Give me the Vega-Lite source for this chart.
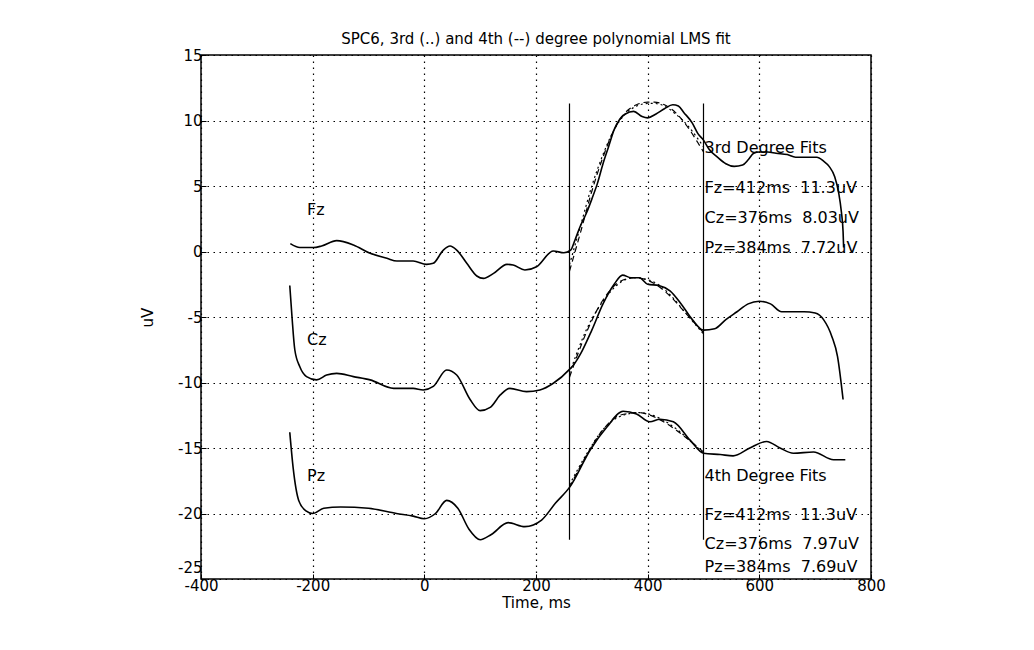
{
  "$schema": "https://vega.github.io/schema/vega-lite/v6.json",
  "autosize": {"type": "none"},
  "width": 670,
  "height": 524,
  "padding": {"left": 201, "top": 55, "right": 163, "bottom": 71},
  "background": "white",
  "title": {"text": "SPC6, 3rd (..) and 4th (--) degree polynomial LMS fit", "fontSize": 15, "fontWeight": "normal", "font": "DejaVu Sans", "color": "black", "offset": 1},
  "config": {
    "font": "DejaVu Sans",
    "view": {"stroke": "black", "strokeWidth": 1.5},
    "axis": {"labelFont": "DejaVu Sans", "labelFontSize": 15, "labelColor": "black", "titleFont": "DejaVu Sans", "titleFontSize": 15, "titleFontWeight": "normal", "titleColor": "black", "domain": false, "tickColor": "black", "tickSize": -5, "tickWidth": 1, "grid": true, "gridColor": "black", "gridDash": [1.5, 4.5], "gridWidth": 1.2, "gridOpacity": 1, "labelExpr": "replace(datum.label, '−', '-')"}
  },
  "datasets": {
    "raw": [
      {"s":"Fz","t":-240,"v":0.6},{"s":"Fz","t":-223,"v":0.3},{"s":"Fz","t":-199,"v":0.3},{"s":"Fz","t":-184,"v":0.42},{"s":"Fz","t":-157,"v":0.83},{"s":"Fz","t":-127,"v":0.5},{"s":"Fz","t":-97,"v":-0.14},{"s":"Fz","t":-67,"v":-0.52},{"s":"Fz","t":-49,"v":-0.73},{"s":"Fz","t":-20,"v":-0.73},{"s":"Fz","t":4,"v":-0.98},{"s":"Fz","t":16,"v":-0.9},{"s":"Fz","t":34,"v":0.11},{"s":"Fz","t":46,"v":0.42},{"s":"Fz","t":58,"v":0.11},{"s":"Fz","t":76,"v":-0.9},{"s":"Fz","t":94,"v":-1.87},{"s":"Fz","t":106,"v":-2.05},{"s":"Fz","t":124,"v":-1.67},{"s":"Fz","t":148,"v":-0.98},{"s":"Fz","t":159,"v":-1.03},{"s":"Fz","t":180,"v":-1.41},{"s":"Fz","t":201,"v":-1.16},{"s":"Fz","t":231,"v":0.04},{"s":"Fz","t":250,"v":-0.1},{"s":"Fz","t":262,"v":0.1},{"s":"Fz","t":270,"v":0.9},{"s":"Fz","t":280,"v":2.0},{"s":"Fz","t":290,"v":2.9},{"s":"Fz","t":300,"v":4.0},{"s":"Fz","t":310,"v":5.2},{"s":"Fz","t":320,"v":6.7},{"s":"Fz","t":330,"v":8.0},{"s":"Fz","t":340,"v":9.3},{"s":"Fz","t":350,"v":10.1},{"s":"Fz","t":360,"v":10.5},{"s":"Fz","t":375,"v":10.7},{"s":"Fz","t":390,"v":10.3},{"s":"Fz","t":400,"v":10.2},{"s":"Fz","t":415,"v":10.5},{"s":"Fz","t":430,"v":10.9},{"s":"Fz","t":445,"v":11.2},{"s":"Fz","t":455,"v":11.1},{"s":"Fz","t":465,"v":10.6},{"s":"Fz","t":480,"v":9.8},{"s":"Fz","t":490,"v":9.0},{"s":"Fz","t":500,"v":8.5},{"s":"Fz","t":510,"v":7.8},{"s":"Fz","t":525,"v":7.2},{"s":"Fz","t":540,"v":6.7},{"s":"Fz","t":555,"v":6.5},{"s":"Fz","t":570,"v":6.6},{"s":"Fz","t":580,"v":7.0},{"s":"Fz","t":590,"v":7.5},{"s":"Fz","t":600,"v":7.6},{"s":"Fz","t":615,"v":7.6},{"s":"Fz","t":630,"v":7.5},{"s":"Fz","t":650,"v":7.4},{"s":"Fz","t":665,"v":7.2},{"s":"Fz","t":685,"v":7.2},{"s":"Fz","t":703,"v":7.2},{"s":"Fz","t":715,"v":6.9},{"s":"Fz","t":725,"v":6.5},{"s":"Fz","t":735,"v":5.7},{"s":"Fz","t":742,"v":4.5},{"s":"Fz","t":747,"v":3.0},{"s":"Fz","t":750,"v":1.5},{"s":"Fz","t":751,"v":0.3},
      {"s":"Cz","t":-241,"v":-2.6},{"s":"Cz","t":-237,"v":-5.0},{"s":"Cz","t":-232,"v":-7.5},{"s":"Cz","t":-223,"v":-8.8},{"s":"Cz","t":-211,"v":-9.55},{"s":"Cz","t":-193,"v":-9.8},{"s":"Cz","t":-175,"v":-9.43},{"s":"Cz","t":-157,"v":-9.3},{"s":"Cz","t":-127,"v":-9.55},{"s":"Cz","t":-97,"v":-9.8},{"s":"Cz","t":-55,"v":-10.45},{"s":"Cz","t":-20,"v":-10.45},{"s":"Cz","t":-2,"v":-10.57},{"s":"Cz","t":16,"v":-10.3},{"s":"Cz","t":40,"v":-9.05},{"s":"Cz","t":58,"v":-9.43},{"s":"Cz","t":82,"v":-11.3},{"s":"Cz","t":100,"v":-12.15},{"s":"Cz","t":118,"v":-11.9},{"s":"Cz","t":136,"v":-10.95},{"s":"Cz","t":153,"v":-10.45},{"s":"Cz","t":183,"v":-10.7},{"s":"Cz","t":207,"v":-10.57},{"s":"Cz","t":231,"v":-10.06},{"s":"Cz","t":260,"v":-9.0},{"s":"Cz","t":270,"v":-8.5},{"s":"Cz","t":280,"v":-7.8},{"s":"Cz","t":300,"v":-6.0},{"s":"Cz","t":320,"v":-4.0},{"s":"Cz","t":340,"v":-2.5},{"s":"Cz","t":355,"v":-1.8},{"s":"Cz","t":370,"v":-2.0},{"s":"Cz","t":385,"v":-2.0},{"s":"Cz","t":400,"v":-2.5},{"s":"Cz","t":420,"v":-2.6},{"s":"Cz","t":440,"v":-3.0},{"s":"Cz","t":460,"v":-4.0},{"s":"Cz","t":480,"v":-5.2},{"s":"Cz","t":500,"v":-6.0},{"s":"Cz","t":520,"v":-5.9},{"s":"Cz","t":540,"v":-5.2},{"s":"Cz","t":560,"v":-4.6},{"s":"Cz","t":580,"v":-4.0},{"s":"Cz","t":600,"v":-3.8},{"s":"Cz","t":620,"v":-4.0},{"s":"Cz","t":640,"v":-4.6},{"s":"Cz","t":660,"v":-4.6},{"s":"Cz","t":680,"v":-4.6},{"s":"Cz","t":700,"v":-4.7},{"s":"Cz","t":715,"v":-5.2},{"s":"Cz","t":730,"v":-6.5},{"s":"Cz","t":740,"v":-8.0},{"s":"Cz","t":750,"v":-11.3},
      {"s":"Pz","t":-241,"v":-13.8},{"s":"Pz","t":-235,"v":-16.5},{"s":"Pz","t":-225,"v":-19.0},{"s":"Pz","t":-212,"v":-19.8},{"s":"Pz","t":-200,"v":-20.0},{"s":"Pz","t":-180,"v":-19.6},{"s":"Pz","t":-150,"v":-19.5},{"s":"Pz","t":-100,"v":-19.6},{"s":"Pz","t":-50,"v":-20.0},{"s":"Pz","t":-20,"v":-20.2},{"s":"Pz","t":0,"v":-20.4},{"s":"Pz","t":20,"v":-20.0},{"s":"Pz","t":40,"v":-19.0},{"s":"Pz","t":60,"v":-19.6},{"s":"Pz","t":80,"v":-21.2},{"s":"Pz","t":100,"v":-22.0},{"s":"Pz","t":120,"v":-21.6},{"s":"Pz","t":150,"v":-20.7},{"s":"Pz","t":180,"v":-21.0},{"s":"Pz","t":210,"v":-20.5},{"s":"Pz","t":235,"v":-19.2},{"s":"Pz","t":261,"v":-17.95},{"s":"Pz","t":297,"v":-15.15},{"s":"Pz","t":327,"v":-13.4},{"s":"Pz","t":356,"v":-12.2},{"s":"Pz","t":380,"v":-12.4},{"s":"Pz","t":404,"v":-13.0},{"s":"Pz","t":422,"v":-12.8},{"s":"Pz","t":446,"v":-13.0},{"s":"Pz","t":476,"v":-14.4},{"s":"Pz","t":500,"v":-15.4},{"s":"Pz","t":530,"v":-15.5},{"s":"Pz","t":553,"v":-15.6},{"s":"Pz","t":583,"v":-15.0},{"s":"Pz","t":613,"v":-14.5},{"s":"Pz","t":637,"v":-15.0},{"s":"Pz","t":661,"v":-15.4},{"s":"Pz","t":697,"v":-15.3},{"s":"Pz","t":733,"v":-15.9},{"s":"Pz","t":754,"v":-15.9}
    ],
    "fit3": [
      {"s":"Fz","t":260,"v":-1.0},{"s":"Fz","t":280,"v":2.0},{"s":"Fz","t":300,"v":5.0},{"s":"Fz","t":320,"v":7.4},{"s":"Fz","t":340,"v":9.3},{"s":"Fz","t":360,"v":10.5},{"s":"Fz","t":380,"v":11.1},{"s":"Fz","t":400,"v":11.3},{"s":"Fz","t":412,"v":11.3},{"s":"Fz","t":430,"v":11.1},{"s":"Fz","t":450,"v":10.5},{"s":"Fz","t":470,"v":9.7},{"s":"Fz","t":490,"v":8.6},{"s":"Fz","t":500,"v":8.0},
      {"s":"Cz","t":260,"v":-9.3},{"s":"Cz","t":290,"v":-6.0},{"s":"Cz","t":320,"v":-3.8},{"s":"Cz","t":350,"v":-2.4},{"s":"Cz","t":376,"v":-2.0},{"s":"Cz","t":410,"v":-2.3},{"s":"Cz","t":440,"v":-3.3},{"s":"Cz","t":470,"v":-4.8},{"s":"Cz","t":500,"v":-6.3},
      {"s":"Pz","t":260,"v":-17.8},{"s":"Pz","t":290,"v":-15.5},{"s":"Pz","t":320,"v":-13.6},{"s":"Pz","t":350,"v":-12.6},{"s":"Pz","t":384,"v":-12.3},{"s":"Pz","t":420,"v":-12.7},{"s":"Pz","t":450,"v":-13.5},{"s":"Pz","t":480,"v":-14.6},{"s":"Pz","t":500,"v":-15.4}
    ],
    "fit4": [
      {"s":"Fz","t":260,"v":-1.5},{"s":"Fz","t":280,"v":1.5},{"s":"Fz","t":300,"v":4.6},{"s":"Fz","t":320,"v":7.2},{"s":"Fz","t":340,"v":9.3},{"s":"Fz","t":360,"v":10.6},{"s":"Fz","t":380,"v":11.2},{"s":"Fz","t":400,"v":11.4},{"s":"Fz","t":412,"v":11.4},{"s":"Fz","t":430,"v":11.2},{"s":"Fz","t":450,"v":10.6},{"s":"Fz","t":470,"v":9.6},{"s":"Fz","t":490,"v":8.3},{"s":"Fz","t":500,"v":7.6},
      {"s":"Cz","t":260,"v":-9.6},{"s":"Cz","t":290,"v":-6.2},{"s":"Cz","t":320,"v":-3.7},{"s":"Cz","t":350,"v":-2.3},{"s":"Cz","t":376,"v":-2.0},{"s":"Cz","t":410,"v":-2.4},{"s":"Cz","t":440,"v":-3.4},{"s":"Cz","t":470,"v":-4.8},{"s":"Cz","t":500,"v":-6.2},
      {"s":"Pz","t":260,"v":-18.0},{"s":"Pz","t":290,"v":-15.6},{"s":"Pz","t":320,"v":-13.6},{"s":"Pz","t":350,"v":-12.5},{"s":"Pz","t":384,"v":-12.3},{"s":"Pz","t":420,"v":-12.8},{"s":"Pz","t":450,"v":-13.6},{"s":"Pz","t":480,"v":-14.6},{"s":"Pz","t":500,"v":-15.3}
    ],
    "vlines": [{"t":260,"top":11.3,"bot":-22},{"t":500,"top":11.3,"bot":-22}],
    "labels": [
      {"t":-210,"v":3.2,"txt":"Fz"},{"t":-210,"v":-6.75,"txt":"Cz"},{"t":-210,"v":-17.1,"txt":"Pz"},
      {"t":502,"v":7.9,"txt":"3rd Degree Fits"},
      {"t":502,"v":4.85,"txt":"Fz=412ms\u00a0\u00a011.3uV"},{"t":502,"v":2.55,"txt":"Cz=376ms\u00a0\u00a08.03uV"},{"t":502,"v":0.27,"txt":"Pz=384ms\u00a0\u00a07.72uV"},
      {"t":502,"v":-17.1,"txt":"4th Degree Fits"},
      {"t":502,"v":-20.1,"txt":"Fz=412ms\u00a0\u00a011.3uV"},{"t":502,"v":-22.3,"txt":"Cz=376ms\u00a0\u00a07.97uV"},{"t":502,"v":-24.1,"txt":"Pz=384ms\u00a0\u00a07.69uV"}
    ]
  },
  "encoding": {
    "x": {"field": "t", "type": "quantitative", "scale": {"domain": [-400, 800], "nice": false}, "axis": {"title": "Time, ms", "values": [-400,-200,0,200,400,600,800], "labelPadding": 4, "titlePadding": 2, "labelFlush": false}},
    "y": {"field": "v", "type": "quantitative", "scale": {"domain": [-25, 15], "nice": false}, "axis": {"title": "uV", "values": [-25,-20,-15,-10,-5,0,5,10,15], "labelPadding": 4, "titlePadding": 22, "labelBaseline": {"condition": {"test": "datum.value == -25", "value": "bottom"}, "value": "middle"}, "labelOffset": {"condition": {"test": "datum.value == -25", "value": -4}, "value": 0}}}
  },
  "layer": [
    {"data": {"name": "raw"}, "mark": {"type": "line", "color": "black", "strokeWidth": 1.6, "interpolate": "monotone"}, "encoding": {"detail": {"field": "s"}}},
    {"data": {"name": "fit3"}, "mark": {"type": "line", "color": "black", "strokeWidth": 1.2, "strokeDash": [2, 3], "interpolate": "monotone"}, "encoding": {"detail": {"field": "s"}}},
    {"data": {"name": "fit4"}, "mark": {"type": "line", "color": "black", "strokeWidth": 1.2, "strokeDash": [6, 4], "interpolate": "monotone"}, "encoding": {"detail": {"field": "s"}}},
    {"data": {"name": "vlines"}, "mark": {"type": "rule", "color": "black", "strokeWidth": 1.2}, "encoding": {"y": {"field": "top", "type": "quantitative"}, "y2": {"field": "bot"}}},
    {"data": {"name": "labels"}, "mark": {"type": "text", "align": "left", "baseline": "middle", "fontSize": 16, "font": "DejaVu Sans", "color": "black"}, "encoding": {"text": {"field": "txt"}}}
  ]
}
